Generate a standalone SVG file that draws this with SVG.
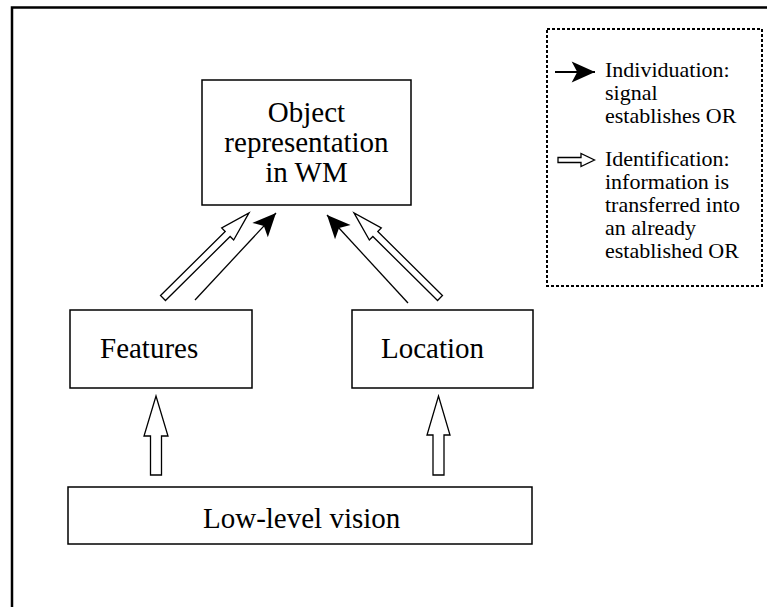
<svg xmlns="http://www.w3.org/2000/svg" width="767" height="607" viewBox="0 0 767 607">
<style>
.box{fill:#fff;stroke:#000;stroke-width:1.5}
.lbl{font-family:'Liberation Serif','DejaVu Serif',serif;font-size:29px;fill:#000}
.leg{font-family:'Liberation Serif','DejaVu Serif',serif;font-size:22px;fill:#000}
.hollow{fill:#fff;stroke:#000;stroke-width:1.3;stroke-linejoin:miter}
.ind{fill:none;stroke:#000;stroke-width:1.3}
</style>
<defs>
<marker id="head" markerUnits="userSpaceOnUse" markerWidth="30" markerHeight="30" viewBox="-25 -12 27 24" refX="0" refY="0" orient="auto">
<path d="M0,0 L-21,-9.5 L-16,0 L-21,9.5 Z" fill="#000"/>
</marker>
</defs>
<rect width="767" height="607" fill="#fff"/>
<path d="M12,607 V7.5 H767" fill="none" stroke="#000" stroke-width="2.5"/>
<g id="legend">
<rect x="547" y="29" width="215" height="257" fill="none" stroke="#000" stroke-width="2" stroke-dasharray="3,2"/>
<line class="ind" x1="555" y1="72" x2="595" y2="72" marker-end="url(#head)" style="stroke-width:2"/>
<path class="hollow" d="M558,157.5 H581 V153.5 L594.5,160 L581,166.5 V162.5 H558 Z"/>
<text class="leg" font-family="Liberation Serif, DejaVu Serif, serif"><tspan x="605" y="77">Individuation:</tspan><tspan x="605" y="100">signal</tspan><tspan x="605" y="123">establishes OR</tspan></text>
<text class="leg" font-family="Liberation Serif, DejaVu Serif, serif"><tspan x="605" y="166">Identification:</tspan><tspan x="605" y="189">information is</tspan><tspan x="605" y="212">transferred into</tspan><tspan x="605" y="235">an already</tspan><tspan x="605" y="258">established OR</tspan></text>
</g>
<g id="object">
<rect class="box" x="202" y="80" width="209" height="125"/>
<text class="lbl" text-anchor="middle" font-family="Liberation Serif, DejaVu Serif, serif"><tspan x="306.5" y="122">Object</tspan><tspan x="306.5" y="152">representation</tspan><tspan x="306.5" y="182">in WM</tspan></text>
</g>
<g id="features">
<rect class="box" x="70" y="310" width="182" height="78"/>
<text class="lbl" x="100" y="358" font-family="Liberation Serif, DejaVu Serif, serif">Features</text>
</g>
<g id="location">
<rect class="box" x="352" y="310" width="181" height="78"/>
<text class="lbl" x="381" y="358" font-family="Liberation Serif, DejaVu Serif, serif">Location</text>
</g>
<g id="lowlevel">
<rect class="box" x="68" y="487" width="464" height="57"/>
<text class="lbl" x="203" y="528" font-family="Liberation Serif, DejaVu Serif, serif">Low-level vision</text>
</g>
<g id="connectors">
<path class="hollow" transform="translate(163,298) rotate(-44.7)" d="M0,-3.5 H91 V-8.5 L121,0 L91,8.5 V3.5 H0 Z"/>
<path class="hollow" transform="translate(440,298) rotate(-135.3)" d="M0,-3.5 H91 V-8.5 L121,0 L91,8.5 V3.5 H0 Z"/>
<line class="ind" x1="195" y1="300" x2="276" y2="213" marker-end="url(#head)"/>
<line class="ind" x1="408" y1="303" x2="327" y2="215" marker-end="url(#head)"/>
<path class="hollow" d="M150.5,475 V436 H144 L156,396 L168,436 H161.5 V475 Z"/>
<path class="hollow" d="M433,475 V435 H427 L438.5,396 L450,435 H444 V475 Z"/>
</g>
</svg>
